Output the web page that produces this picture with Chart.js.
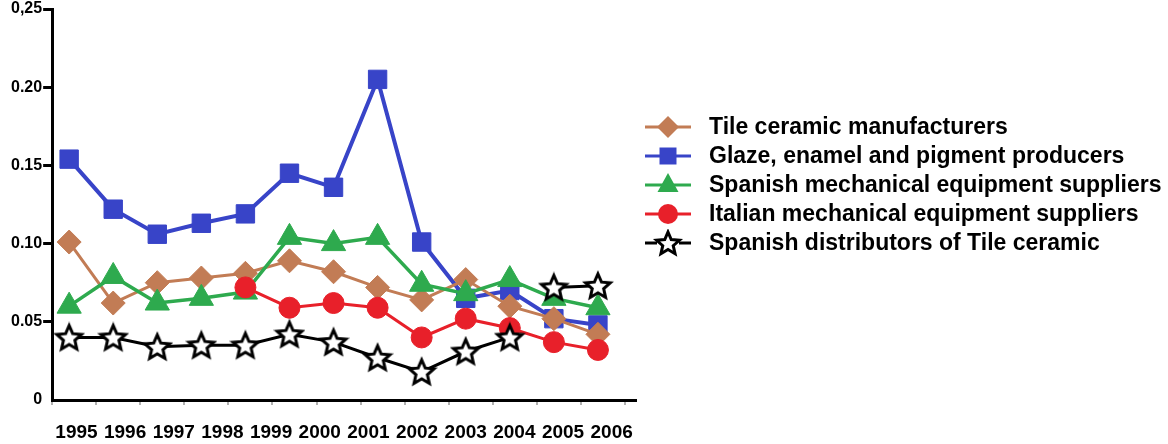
<!DOCTYPE html>
<html>
<head>
<meta charset="utf-8">
<script src="https://cdn.jsdelivr.net/npm/chart.js@4/dist/chart.umd.min.js"></script>
<style>
  html, body { margin: 0; padding: 0; background: #fff; }
  #wrap { position: relative; width: 1168px; height: 444px; }
  canvas { display: block; }
  #legend {
    position: absolute; left: 643px; top: 112px;
    margin: 0; padding: 0; list-style: none;
    font-family: "Liberation Sans", Arial, sans-serif;
    font-weight: bold; font-size: 23px; color: #000;
  }
  #legend li { display: flex; align-items: center; height: 29px; white-space: nowrap; }
  #legend canvas { width: 50px; height: 28px; margin-right: 16px; }
</style>
</head>
<body>
<div id="wrap">
  <canvas id="chart" width="1168" height="444"></canvas>
  <ul id="legend"></ul>
</div>
<script>
// Year labels printed under the axis.
var years = ['1995', '1996', '1997', '1998', '1999', '2000', '2001', '2002', '2003', '2004', '2005', '2006'];

// Each line carries 13 markers, one more than there are year labels.
var markerSlots = [0, 1, 2, 3, 4, 5, 6, 7, 8, 9, 10, 11, 12];

// Values, one per marker slot.
var tileManufacturers   = [0.101, 0.062, 0.075, 0.078, 0.081, 0.089, 0.082, 0.072, 0.064, 0.077, 0.060, 0.052, 0.042];
var glazeProducers      = [0.154, 0.122, 0.106, 0.113, 0.119, 0.145, 0.136, 0.205, 0.101, 0.065, 0.070, 0.052, 0.048];
var spanishEquipment    = [0.060, 0.079, 0.062, 0.065, 0.069, 0.104, 0.100, 0.104, 0.074, 0.068, 0.077, 0.065, 0.059];
var italianEquipment    = [null, null, null, null, 0.072, 0.059, 0.062, 0.059, 0.040, 0.052, 0.046, 0.037, 0.032];
var spanishDistributors = [0.040, 0.040, 0.034, 0.035, 0.035, 0.042, 0.037, 0.027, 0.018, 0.031, 0.040, 0.072, 0.073];

var BROWN = '#C27C55';
var BLUE  = '#3844C8';
var GREEN = '#2EAA4E';
var RED   = '#E8202A';
var BLACK = '#000000';

Chart.defaults.font.family = '"Liberation Sans", Arial, sans-serif';
Chart.defaults.color = '#000';

// Draws one marker shape centred on (x, y).
function drawMarker(g, style, x, y, color) {
  g.fillStyle = color;
  g.beginPath();
  if (style == 'rectRot') {
    g.moveTo(x, y - 11); g.lineTo(x + 11, y); g.lineTo(x, y + 11); g.lineTo(x - 11, y);
  } else if (style == 'rect') {
    g.rect(x - 8.5, y - 8.5, 17, 17);
  } else if (style == 'triangle') {
    g.moveTo(x, y - 12); g.lineTo(x + 10.5, y + 7); g.lineTo(x - 10.5, y + 7);
  } else {
    g.arc(x, y, 10, 0, Math.PI * 2);
  }
  g.closePath();
  g.fill();
}

// Outline five-pointed star with a white centre.
function drawStar(g, cx, cy, outer, inner) {
  g.beginPath();
  for (var k = 0; k < 10; k++) {
    var r = k % 2 ? inner : outer;
    var a = -Math.PI / 2 + k * Math.PI / 5;
    g.lineTo(cx + r * Math.cos(a), cy + r * Math.sin(a));
  }
  g.closePath();
  g.fillStyle = '#fff';
  g.fill();
  g.lineWidth = 3;
  g.strokeStyle = BLACK;
  g.stroke();
}

function makeStar(size, outer, inner) {
  var c = document.createElement('canvas');
  c.width = c.height = size;
  drawStar(c.getContext('2d'), size / 2, size / 2 + 1, outer, inner);
  return c;
}

// Legend swatch: a short line with the series marker on it.
function makeLegendIcon(style, color) {
  var c = document.createElement('canvas');
  c.width = 50;
  c.height = 28;
  var g = c.getContext('2d');
  g.strokeStyle = color;
  g.lineWidth = 3;
  g.beginPath();
  if (style == 'star') {
    g.moveTo(2, 14); g.lineTo(14, 14);
    g.moveTo(36, 14); g.lineTo(48, 14);
  } else {
    g.moveTo(2, 14); g.lineTo(48, 14);
  }
  g.stroke();
  if (style == 'star') {
    drawStar(g, 25, 15, 12, 5.5);
  } else {
    drawMarker(g, style, 25, 14, color);
  }
  return c;
}

var starPoint = makeStar(32, 13, 6);

var chart = new Chart(document.getElementById('chart'), {
  type: 'line',
  data: {
    labels: markerSlots,
    datasets: [{
      label: 'Tile ceramic manufacturers',
      data: tileManufacturers,
      borderColor: BROWN, backgroundColor: BROWN,
      borderWidth: 3, pointStyle: 'rectRot', pointRadius: 12, pointBorderWidth: 1,
      legendStyle: 'rectRot',
      order: 4
    }, {
      label: 'Glaze, enamel and pigment producers',
      data: glazeProducers,
      borderColor: BLUE, backgroundColor: BLUE,
      borderWidth: 4, pointStyle: 'rect', pointRadius: 13, pointBorderWidth: 1,
      legendStyle: 'rect',
      order: 5
    }, {
      label: 'Spanish mechanical equipment suppliers',
      data: spanishEquipment,
      borderColor: GREEN, backgroundColor: GREEN,
      borderWidth: 3.5, pointStyle: 'triangle', pointRadius: 14, pointBorderWidth: 1,
      legendStyle: 'triangle',
      order: 3
    }, {
      label: 'Italian mechanical equipment suppliers',
      data: italianEquipment,
      borderColor: RED, backgroundColor: RED,
      borderWidth: 3, pointStyle: 'circle', pointRadius: 10.5, pointBorderWidth: 1,
      legendStyle: 'circle',
      order: 2
    }, {
      label: 'Spanish distributors of Tile ceramic',
      data: spanishDistributors,
      borderColor: BLACK, backgroundColor: '#fff',
      borderWidth: 3, pointStyle: starPoint, pointRadius: 13,
      legendStyle: 'star',
      // the last two stars sit on their own short line
      segment: {
        borderColor: function(ctx) { return ctx.p0DataIndex == 10 ? 'rgba(0,0,0,0)' : undefined; }
      },
      order: 1
    }]
  },
  options: {
    responsive: false,
    animation: false,
    // the right side is left free for the legend list
    layout: { autoPadding: false, padding: { left: 10, top: 9, right: 532, bottom: 0 } },
    elements: { line: { tension: 0 } },
    plugins: {
      tooltip: { enabled: false },
      legend: { display: false }
    },
    scales: {
      x: {
        type: 'linear',
        position: 'bottom',
        min: -0.386,
        max: 12.864,
        // small tick marks between the marker slots
        afterBuildTicks: function(axis) {
          var ticks = [];
          for (var k = 0; k <= 13; k++) ticks.push({ value: axis.min + k });
          axis.ticks = ticks;
        },
        ticks: { display: false },
        grid: { drawOnChartArea: false, tickLength: 5, color: '#b0b0b0', lineWidth: 2 },
        border: { color: '#000', width: 3 },
        // empty title: only a gap between the axis line and the year labels
        title: { display: true, text: '', font: { size: 1 }, padding: { top: 15, bottom: 0 } }
      },
      years: {
        type: 'category',
        position: 'bottom',
        labels: years,
        offset: true,
        grid: { display: false, drawTicks: false },
        border: { display: false },
        ticks: {
          color: '#000', padding: 0, maxRotation: 0, autoSkip: false,
          font: { size: 19, weight: 'bold' }
        }
      },
      y: {
        min: 0,
        max: 0.25,
        ticks: {
          stepSize: 0.05,
          color: '#000',
          padding: 1,
          font: { size: 16, weight: 'bold', lineHeight: 1 },
          callback: function(v) {
            if (v == 0) return '0';
            var s = v.toFixed(2);
            return v > 0.24 ? s.replace('.', ',') : s;
          }
        },
        grid: {
          drawOnChartArea: false,
          tickLength: 9,
          lineWidth: 3,
          color: function(ctx) { return ctx.tick && ctx.tick.value == 0 ? 'rgba(0,0,0,0)' : '#000'; }
        },
        border: { color: '#000', width: 3 }
      }
    }
  }
});

// Legend list built from the chart's datasets.
var legend = document.getElementById('legend');
chart.data.datasets.forEach(function(ds) {
  var li = document.createElement('li');
  li.appendChild(makeLegendIcon(ds.legendStyle, ds.borderColor));
  li.appendChild(document.createTextNode(ds.label));
  legend.appendChild(li);
});
</script>
</body>
</html>
